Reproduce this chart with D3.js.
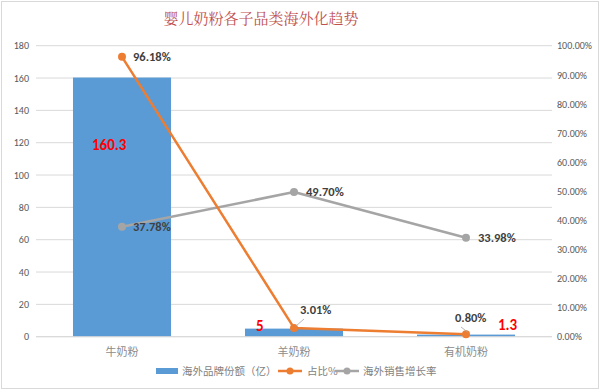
<!DOCTYPE html>
<html><head><meta charset="utf-8">
<script src="https://cdn.jsdelivr.net/npm/d3@7"></script>
<style>body{margin:0;background:#fff;}svg{display:block;font-family:"Microsoft YaHei","Noto Sans CJK SC",sans-serif;}</style>
</head><body><svg id="c" width="600" height="391"></svg>
<script>
const categories = ["牛奶粉", "羊奶粉", "有机奶粉"];
const shareValues = [160.3, 5, 1.3];
const ratioValues = [0.9618, 0.0301, 0.0080];
const growthValues = [0.3778, 0.4970, 0.3398];
const leftTicks = [0,20,40,60,80,100,120,140,160,180];
const rightTicks = [0,0.1,0.2,0.3,0.4,0.5,0.6,0.7,0.8,0.9,1.0];
const legendNames = ["海外品牌份额（亿）", "占比%", "海外销售增长率"];
const title = "婴儿奶粉各子品类海外化趋势";

const svg = d3.select("#c");
const L = 36, R = 552, T = 45.7, B = 336.7;
svg.append("rect").attr("x",1.5).attr("y",1.5).attr("width",597).attr("height",387).attr("fill","#fff").attr("stroke","#d9d9d9");

const x = d3.scaleBand().domain(categories).range([L,R]).paddingInner(0.43).paddingOuter(0.215);
const yL = d3.scaleLinear().domain([0,180]).range([B,T]);
const yR = d3.scaleLinear().domain([0,1]).range([B,T]);

// grid
svg.append("g").selectAll("line").data(leftTicks).join("line")
  .attr("x1",L).attr("x2",R).attr("y1",d=>yL(d)).attr("y2",d=>yL(d))
  .attr("stroke","#d9d9d9").attr("stroke-width",1);

// left axis
const ga = svg.append("g").attr("transform",`translate(${L},0)`)
  .call(d3.axisLeft(yL).tickValues(leftTicks).tickSize(0).tickPadding(7));
ga.select(".domain").remove();
ga.selectAll("text").attr("fill","#595959").style("font-size","10px").style("font-family","Calibri,'Liberation Sans',sans-serif");
const gr = svg.append("g").attr("transform",`translate(${R},0)`)
  .call(d3.axisRight(yR).tickValues(rightTicks).tickSize(0).tickPadding(5).tickFormat(d=>(d*100).toFixed(2)+"%"));
gr.select(".domain").remove();
gr.selectAll("text").attr("fill","#595959").style("font-size","10px").style("font-family","Calibri,'Liberation Sans',sans-serif");

// bars
svg.append("g").selectAll("rect").data(shareValues).join("rect")
  .attr("x",(d,i)=>x(categories[i])).attr("width",x.bandwidth())
  .attr("y",d=>yL(d)).attr("height",d=>B-yL(d)).attr("fill","#5B9BD5");

// x axis baseline & labels
svg.append("line").attr("x1",L).attr("x2",R).attr("y1",B).attr("y2",B).attr("stroke","#d9d9d9");
svg.append("g").selectAll("text").data(categories).join("text")
  .attr("x",d=>x(d)+x.bandwidth()/2).attr("y",B+19).attr("text-anchor","middle")
  .attr("fill","#8c8c8c").style("font-size","11px").text(d=>d);

const cx = i => x(categories[i]) + x.bandwidth()/2;
function series(vals,color){
  const line = d3.line().x((d,i)=>cx(i)).y(d=>yR(d));
  svg.append("path").datum(vals).attr("d",line).attr("fill","none").attr("stroke",color).attr("stroke-width",2.5).attr("stroke-linejoin","round");
  svg.append("g").selectAll("circle").data(vals).join("circle").attr("cx",(d,i)=>cx(i)).attr("cy",d=>yR(d)).attr("r",4).attr("fill",color);
}
series(growthValues,"#A5A5A5");
series(ratioValues,"#ED7D31");

const lblStyle = s => s.attr("fill","#404040").style("font-size","12.5px").style("font-weight","bold").style("font-family","Calibri,'Liberation Sans',sans-serif");
// growth labels
const gOff = [[11,4],[12,4],[12,4]];
growthValues.forEach((v,i)=>{
  svg.append("text").attr("x",cx(i)+gOff[i][0]).attr("y",yR(v)+gOff[i][1]).call(lblStyle).text((v*100).toFixed(2)+"%");
});
// ratio labels
svg.append("text").attr("x",cx(0)+11).attr("y",yR(ratioValues[0])+4).call(lblStyle).text((ratioValues[0]*100).toFixed(2)+"%");
const rLab = [[1,300,314],[2,455,322]];
rLab.forEach(([i,lx,ly])=>{
  svg.append("line").attr("x1",cx(i)+2).attr("y1",yR(ratioValues[i])-2).attr("x2",lx+ (i===1?4:6)).attr("y2",ly+5).attr("stroke","#a6a6a6").attr("stroke-width",0.8);
  svg.append("text").attr("x",lx).attr("y",ly).call(lblStyle).text((ratioValues[i]*100).toFixed(2)+"%");
});

// bar value labels (red)
const barLab = [[92,150],[256,331],[498,330]];
shareValues.forEach((v,i)=>{
  svg.append("text").attr("x",barLab[i][0]).attr("y",barLab[i][1]).attr("fill","#FF0000")
    .style("font-size","15px").style("font-weight","bold").style("font-family","Calibri,'Liberation Sans',sans-serif").text(v);
});

// title
svg.append("text").attr("x",261).attr("y",24).attr("text-anchor","middle").attr("fill","#C0504D")
  .style("font-size","15px").style("font-family","'Noto Serif CJK SC','Noto Sans CJK SC',serif").text(title);

// legend
const lg = svg.append("g").style("font-size","10.5px").attr("fill","#7f7f7f");
lg.append("rect").attr("x",156).attr("y",368).attr("width",22).attr("height",6).attr("fill","#5B9BD5");
lg.append("text").attr("x",182).attr("y",375).text(legendNames[0]).attr("fill","#7f7f7f");
lg.append("line").attr("x1",278).attr("x2",302).attr("y1",371).attr("y2",371).attr("stroke","#ED7D31").attr("stroke-width",2.5);
lg.append("circle").attr("cx",290).attr("cy",371).attr("r",3.5).attr("fill","#ED7D31");
lg.append("text").attr("x",307).attr("y",375).text(legendNames[1]).attr("fill","#7f7f7f");
lg.append("line").attr("x1",335).attr("x2",359).attr("y1",371).attr("y2",371).attr("stroke","#A5A5A5").attr("stroke-width",2.5);
lg.append("circle").attr("cx",347).attr("cy",371).attr("r",3.5).attr("fill","#A5A5A5");
lg.append("text").attr("x",363).attr("y",375).text(legendNames[2]).attr("fill","#7f7f7f");
</script></body></html>
